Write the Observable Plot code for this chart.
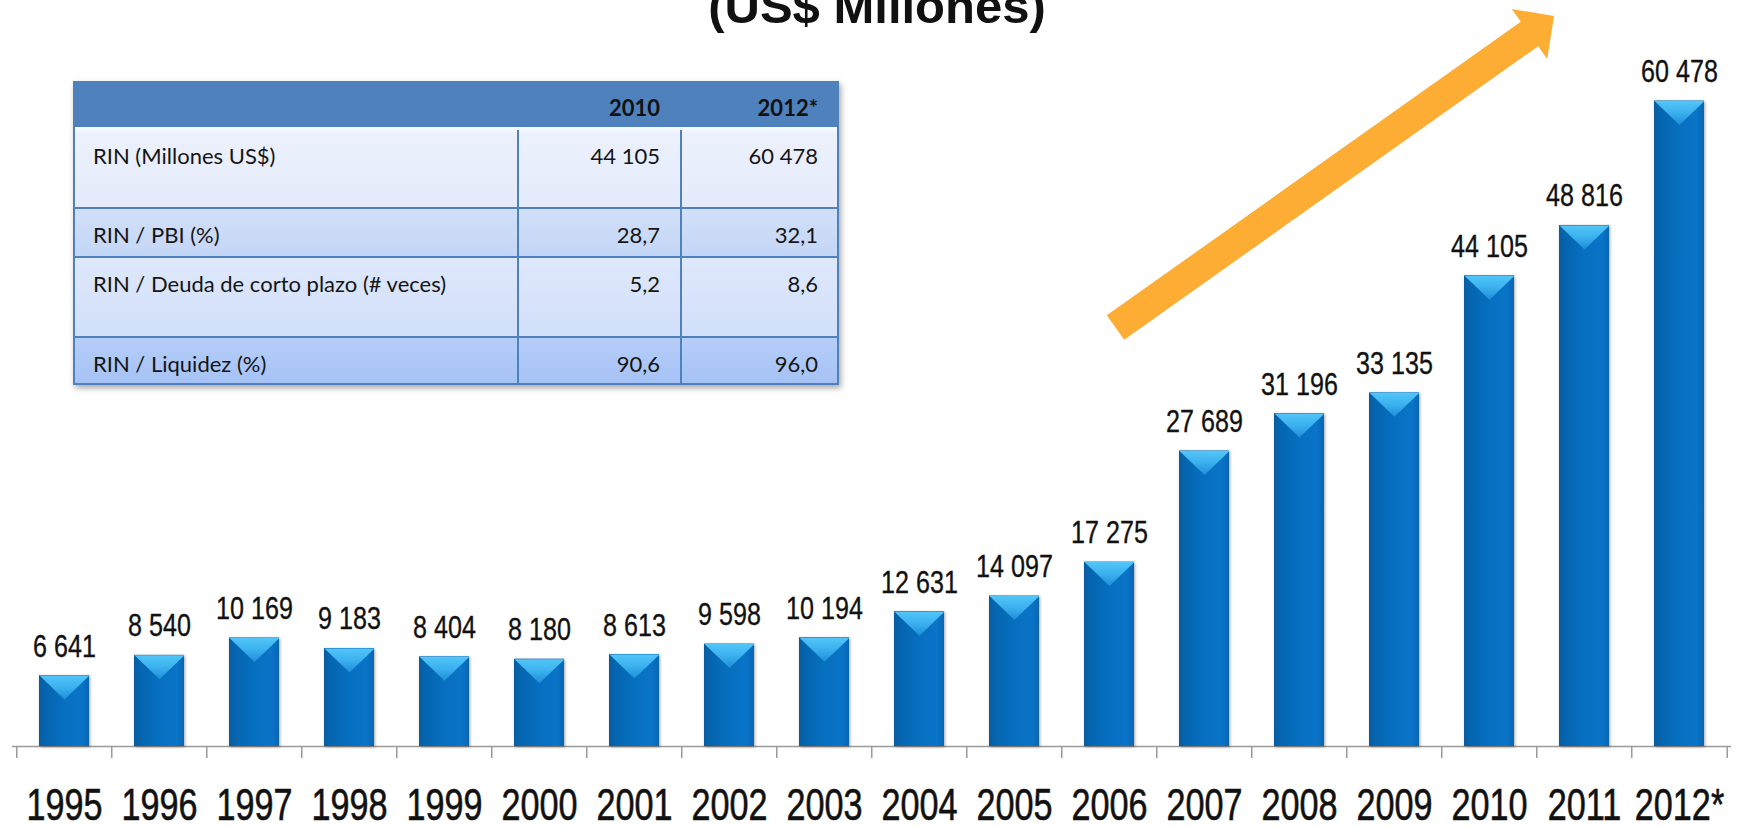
<!DOCTYPE html>
<html>
<head>
<meta charset="utf-8">
<script src="https://cdn.jsdelivr.net/npm/d3@7"></script>
<script src="https://cdn.jsdelivr.net/npm/@observablehq/plot@0.6"></script>
<style>
html, body { margin: 0; padding: 0; background: #fff; overflow: hidden; }
#wrap { position: relative; width: 1741px; height: 828px; overflow: hidden; background: #fff; }
#chart { position: absolute; left: 0; top: 0; }
#overlay { position: absolute; left: 0; top: 0; pointer-events: none; }
#tbl { position: absolute; left: 73px; top: 81px; width: 766px; height: 304px;
  box-shadow: 2px 3px 6px rgba(0,0,0,0.35); font-family: Lato, "Liberation Sans", sans-serif;
  font-size: 22px; color: #151515; }
.row { position: absolute; left: 0; width: 766px; box-sizing: border-box; }
.cell { position: absolute; top: 0; box-sizing: border-box; padding-top: 17px; line-height: 20px; white-space: nowrap; }
.vline { position: absolute; top: 0; width: 2px; background: #4F81BD; }
.hline { position: absolute; left: 0; width: 766px; height: 2px; background: #4F81BD; }
g[aria-label="bar"] { filter: drop-shadow(1.5px 1px 1.5px rgba(0,0,0,0.35)); }
</style>
</head>
<body>
<div id="wrap">
  <div id="chart"></div>
  <div id="tbl"></div>
  <svg id="overlay" width="1741" height="828"></svg>
</div>
<script>
// ---- Data ----
const years = ["1995","1996","1997","1998","1999","2000","2001","2002","2003","2004","2005","2006","2007","2008","2009","2010","2011","2012*"];
const rin = [6641, 8540, 10169, 9183, 8404, 8180, 8613, 9598, 10194, 12631, 14097, 17275, 27689, 31196, 33135, 44105, 48816, 60478];

const titleText = "(US$ Millones)";

const tableHeader = ["", "2010", "2012*"];
const tableLabels = ["RIN (Millones US$)", "RIN / PBI (%)", "RIN / Deuda de corto plazo (# veces)", "RIN / Liquidez (%)"];
const table2010 = ["44 105", "28,7", "5,2", "90,6"];
const table2012 = ["60 478", "32,1", "8,6", "96,0"];

// ---- Build ----
const data = years.map((year, i) => ({year, value: rin[i]}));
const fmt = d3.formatLocale({decimal: ",", thousands: " ", grouping: [3], currency: ["", ""]}).format(",d");

const fontFam = "'Liberation Sans', Arial, sans-serif";

const topSymbol = {
  draw(ctx) {
    ctx.moveTo(-25, 0);
    ctx.lineTo(25, 0);
    ctx.lineTo(0, 24);
    ctx.closePath();
  }
};

const axisColor = "#9a9a9a";
const plot = Plot.plot({
  width: 1741,
  height: 828,
  marginLeft: 12,
  marginRight: 10,
  marginTop: 1,
  marginBottom: 82,
  style: {fontFamily: fontFam, background: "transparent", overflow: "visible"},
  x: {domain: years, paddingInner: 0.476, paddingOuter: 0.238},
  y: {domain: [0, 69800], axis: null},
  marks: [
    Plot.ruleY([0], {stroke: axisColor, strokeWidth: 1.5}),
    Plot.ruleX(years, {x: d => d, dx: -47.75, y1: 0, y2: -1130, stroke: axisColor, strokeWidth: 1.5}),
    Plot.ruleX(years.slice(-1), {x: d => d, dx: 47.75, y1: 0, y2: -1130, stroke: axisColor, strokeWidth: 1.5}),
    Plot.barY(data, {x: "year", y: "value", fill: "url(#barGrad)"}),
    Plot.dot(data, {x: "year", y: "value", symbol: topSymbol, r: 5, fill: "url(#topGrad)"}),
    Plot.text(data, {x: "year", y: "value", text: d => fmt(d.value), dy: -19, lineAnchor: "bottom",
      fontSize: 31, fill: "#111"}),
    Plot.axisX({tickSize: 0, tickPadding: 42, fontSize: 45, label: null, fill: "#111"})
  ]
});
document.getElementById("chart").appendChild(plot);

// condensed look: compress glyphs horizontally, slightly heavier strokes
function condense(selector, factor, sw) {
  plot.querySelectorAll(selector).forEach(t => {
    const len = t.getComputedTextLength();
    t.setAttribute("textLength", (len * factor).toFixed(1));
    t.setAttribute("lengthAdjust", "spacingAndGlyphs");
    t.setAttribute("stroke", "#111");
    t.setAttribute("stroke-width", sw);
    t.setAttribute("paint-order", "stroke");
  });
}
condense('g[aria-label="text"] text', 0.81, 0.35);
condense('g[aria-label="x-axis tick label"] text', 0.76, 0.6);

// gradients
const svg = d3.select(plot);
const defs = svg.insert("defs", ":first-child");
const bg = defs.append("linearGradient").attr("id", "barGrad").attr("x1", 0).attr("x2", 1).attr("y1", 0).attr("y2", 0);
[[0, "#0A5C9E"], [0.1, "#0564AE"], [0.45, "#066EBE"], [0.85, "#0A74C8"], [1, "#0866B2"]]
  .forEach(([o, c]) => bg.append("stop").attr("offset", o).attr("stop-color", c));
const tg = defs.append("linearGradient").attr("id", "topGrad").attr("x1", 0).attr("x2", 0).attr("y1", 0).attr("y2", 1);
[[0, "#52C6F8"], [0.5, "#3AB0EE"], [1, "#1F8CD8"]]
  .forEach(([o, c]) => tg.append("stop").attr("offset", o).attr("stop-color", c));

// ---- Table ----
const tbl = document.getElementById("tbl");
const rowEdges = [0, 46, 127, 176, 256, 304];
const colEdges = [0, 445, 608, 766];
const rowBg = [
  "#4F81BD",
  "linear-gradient(#FAFCFF 0px, #ECF1FC 6px, #E3EAFA 100%)",
  "linear-gradient(#D2E0F9, #C3D6F6)",
  "linear-gradient(#DFE8FB, #D1DFF9)",
  "linear-gradient(#B6CEF8, #A5C2F5)"
];
const rows = [tableHeader].concat(tableLabels.map((l, i) => [l, table2010[i], table2012[i]]));
rows.forEach((r, ri) => {
  const row = document.createElement("div");
  row.className = "row";
  row.style.top = rowEdges[ri] + "px";
  row.style.height = (rowEdges[ri + 1] - rowEdges[ri]) + "px";
  row.style.background = rowBg[ri];
  r.forEach((txt, ci) => {
    const c = document.createElement("div");
    c.className = "cell";
    c.style.left = colEdges[ci] + "px";
    c.style.width = (colEdges[ci + 1] - colEdges[ci]) + "px";
    c.style.textAlign = ci === 0 ? "left" : "right";
    c.style.paddingLeft = ci === 0 ? "20px" : "0";
    c.style.paddingRight = ci === 0 ? "0" : "21px";
    if (ri === 0) { c.style.fontWeight = "bold"; c.style.color = "#111"; }
    if (ri === 1) c.style.paddingTop = "19px";
    c.textContent = txt;
    row.appendChild(c);
  });
  tbl.appendChild(row);
});
// grid lines
[127, 176, 256].forEach(y => {
  const h = document.createElement("div"); h.className = "hline"; h.style.top = (y - 1) + "px"; tbl.appendChild(h);
});
[445, 608].forEach(x => {
  const v = document.createElement("div"); v.className = "vline";
  v.style.left = (x - 1) + "px"; v.style.top = "49px"; v.style.height = "255px"; tbl.appendChild(v);
});
const border = document.createElement("div");
border.style.cssText = "position:absolute;left:0;top:0;width:766px;height:304px;box-sizing:border-box;border:2px solid #4F81BD;";
tbl.appendChild(border);

// ---- Title and arrow annotation ----
const ov = d3.select("#overlay");
ov.append("text").attr("x", 877).attr("y", 23).attr("text-anchor", "middle")
  .attr("font-family", "'Liberation Sans', Arial, sans-serif").attr("font-weight", "bold")
  .attr("font-size", 49).attr("fill", "#111").text(titleText);

const arrowPts = [[1106.8, 315.3], [1520.8, 21.8], [1511.8, 9.1], [1554, 16], [1547.2, 58.9], [1538.2, 46.2], [1124.2, 339.7]];
ov.append("polygon").attr("points", arrowPts.map(p => p.join(",")).join(" ")).attr("fill", "#FDAC34");
</script>
</body>
</html>
